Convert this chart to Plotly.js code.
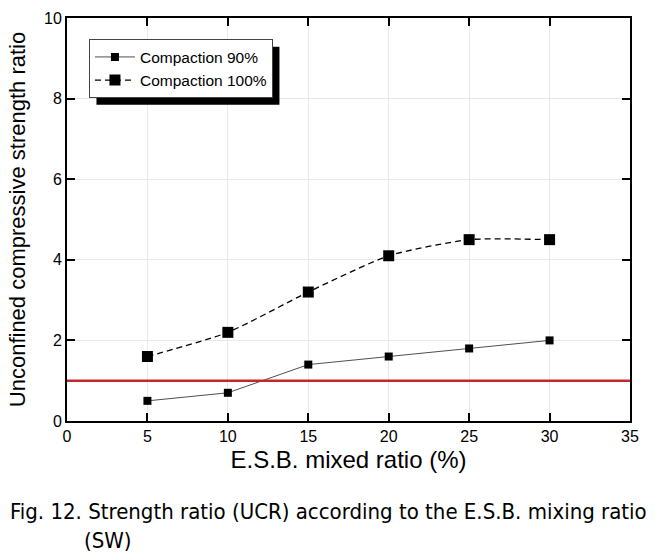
<!DOCTYPE html>
<html><head><meta charset="utf-8">
<script src="https://cdn.plot.ly/plotly-3.0.1.min.js"></script>
<style>html,body{margin:0;padding:0;background:#fff}#c{width:661px;height:557px}</style>
</head><body><div id="c"></div>
<script>
const mixRatio = [5, 10, 15, 20, 25, 30];
const compaction90 = [0.5, 0.7, 1.4, 1.6, 1.8, 2.0];
const compaction100 = [1.6, 2.2, 3.2, 4.1, 4.5, 4.5];
const referenceRatio = 1;
const seriesNames = ['Compaction 90%', 'Compaction 100%'];
const xTicks = [0, 5, 10, 15, 20, 25, 30, 35];
const yTicks = [0, 2, 4, 6, 8, 10];
const captionLines = ['Fig. 12. Strength ratio (UCR) according to the E.S.B. mixing ratio', '(SW)'];

const font = '"Liberation Sans", Arial, sans-serif';
const capFont = '"DejaVu Sans Condensed", "Liberation Sans", sans-serif';
const traces = [
  {x: mixRatio, y: compaction90, name: seriesNames[0], mode: 'lines+markers',
   line: {color: '#222', width: 0.8}, marker: {symbol: 'square', size: 8, color: '#000'}},
  {x: mixRatio, y: compaction100, name: seriesNames[1], mode: 'lines+markers',
   line: {color: '#000', width: 1.3, dash: '6px,4px', shape: 'spline', smoothing: 0.6},
   marker: {symbol: 'square', size: 11, color: '#000'}}
];
const layout = {
  width: 661, height: 557,
  margin: {l: 67, r: 31, t: 18, b: 136},
  paper_bgcolor: '#fff', plot_bgcolor: '#fff',
  showlegend: true,
  legend: {x: 0.039, y: 0.947, xanchor: 'left', yanchor: 'top', bgcolor: '#fff',
    bordercolor: '#444', borderwidth: 1, font: {family: font, size: 15.5, color: '#000'},
    tracegroupgap: 0, itemwidth: 40},
  font: {family: font, color: '#000'},
  xaxis: {range: [0, 35], tickvals: xTicks, ticktext: xTicks.map(String),
    ticks: 'inside', ticklen: 8, tickwidth: 2, tickcolor: '#000', mirror: 'ticks',
    showline: true, linecolor: '#000', linewidth: 2, showgrid: true, gridcolor: '#e8e8e8',
    zeroline: false, tickfont: {size: 16, family: font},
    title: {text: 'E.S.B. mixed ratio (%)', font: {size: 24, family: font}, standoff: 7}},
  yaxis: {range: [0, 10], tickvals: yTicks, ticktext: yTicks.map(String),
    ticks: 'inside', ticklen: 8, tickwidth: 2, tickcolor: '#000', mirror: 'ticks',
    showline: true, linecolor: '#000', linewidth: 2, showgrid: true, gridcolor: '#e8e8e8',
    zeroline: false, tickfont: {size: 16, family: font},
    title: {text: 'Unconfined compressive strength ratio', font: {size: 22, family: font}, standoff: 12}},
  shapes: [
    {type: 'line', xref: 'paper', x0: 0, x1: 1, yref: 'y', y0: referenceRatio, y1: referenceRatio,
     line: {color: '#c0282b', width: 2.5}}
  ],
  annotations: [
    {xref: 'paper', yref: 'paper', x: -0.105, y: -0.224, xanchor: 'left', yanchor: 'middle',
     text: captionLines[0], showarrow: false,
     font: {family: capFont, size: 22, color: '#000'}},
    {xref: 'paper', yref: 'paper', x: 0.027, y: -0.296, xanchor: 'left', yanchor: 'middle',
     text: captionLines[1], showarrow: false,
     font: {family: capFont, size: 22, color: '#000'}}
  ]
};
Plotly.newPlot('c', traces, layout, {displayModeBar: false, staticPlot: true}).then(gd => {
  // drop shadow behind the legend box, measured from the rendered legend
  const bg = gd.querySelector('.legend .bg');
  if (!bg) return;
  const r = bg.getBoundingClientRect();
  const c = gd.getBoundingClientRect();
  const s = gd._fullLayout._size;
  const off = 7;
  const px = v => (v - s.l) / s.w;
  const py = v => 1 - (v - s.t) / s.h;
  const sh = {type: 'rect', xref: 'paper', yref: 'paper',
    x0: px(r.left - c.left + off), x1: px(r.right - c.left + off),
    y0: py(r.bottom - c.top + off), y1: py(r.top - c.top + off),
    fillcolor: '#000', line: {width: 0}, layer: 'above'};
  return Plotly.relayout(gd, {shapes: layout.shapes.concat([sh])});
});
</script></body></html>
